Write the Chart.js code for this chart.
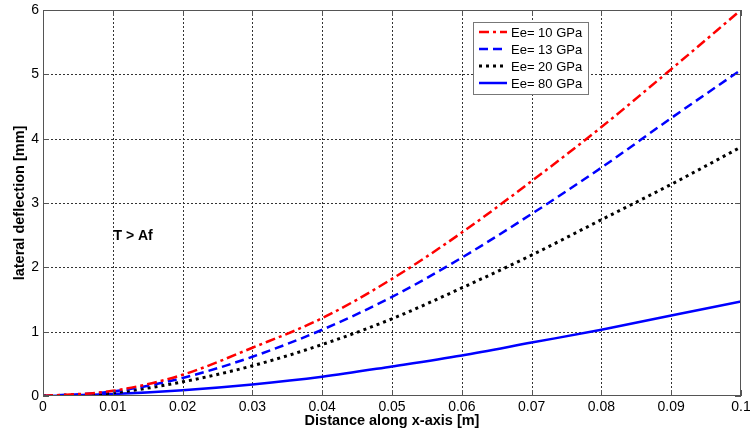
<!DOCTYPE html>
<html>
<head>
<meta charset="utf-8">
<script src="https://cdn.jsdelivr.net/npm/chart.js@4/dist/chart.umd.min.js"></script>
<style>
  html, body { margin: 0; padding: 0; background: #fff; }
  #wrap { width: 750px; height: 436px; position: relative; }
</style>
</head>
<body>
<div id="wrap"><canvas id="chart"></canvas></div>
<script>
// x positions along the beam [m]
const xValues = [0, 0.01, 0.02, 0.03, 0.04, 0.05, 0.06, 0.07, 0.08, 0.09, 0.1];

// lateral deflection [mm] for each Young's modulus
const ee10 = [0, 0.08, 0.33, 0.75, 1.21, 1.82, 2.54, 3.34, 4.18, 5.08, 6.0];
const ee13 = [0, 0.07, 0.28, 0.61, 1.03, 1.54, 2.15, 2.83, 3.55, 4.32, 5.07];
const ee20 = [0, 0.05, 0.22, 0.47, 0.80, 1.20, 1.68, 2.19, 2.74, 3.29, 3.87];
const ee80 = [0, 0.03, 0.09, 0.18, 0.30, 0.46, 0.63, 0.83, 1.03, 1.25, 1.47];

const seriesNames = ["Ee= 10 GPa", "Ee= 13 GPa", "Ee= 20 GPa", "Ee= 80 GPa"];
const xTickLabels = ["0", "0.01", "0.02", "0.03", "0.04", "0.05", "0.06", "0.07", "0.08", "0.09", "0.1"];
const yTickLabels = ["0", "1", "2", "3", "4", "5", "6"];

const styles = [
  { color: "#ff0000", dash: [10, 4, 3, 4], width: 2.5 },
  { color: "#0000ff", dash: [9, 5], width: 2.5 },
  { color: "#000000", dash: [3, 4], width: 3 },
  { color: "#0000ff", dash: [], width: 2.5 }
];

const toPoints = arr => arr.map((v, i) => ({ x: xValues[i], y: v }));

const datasets = [ee10, ee13, ee20, ee80].map((arr, i) => ({
  label: seriesNames[i],
  data: toPoints(arr),
  borderColor: styles[i].color,
  borderDash: styles[i].dash,
  borderWidth: styles[i].width,
  pointRadius: 0,
  cubicInterpolationMode: "monotone",
  fill: false
}));

const FONT = "'Liberation Sans', Arial, sans-serif";

// dotted grid drawn under the curves
const dottedGrid = {
  id: "dottedGrid",
  beforeDatasetsDraw(chart) {
    const { ctx, chartArea: a, scales } = chart;
    ctx.save();
    ctx.strokeStyle = "#333";
    ctx.lineWidth = 1;
    ctx.setLineDash([2, 2]);
    ctx.beginPath();
    xValues.slice(1, -1).forEach(v => {
      const px = Math.round(scales.x.getPixelForValue(v)) + 0.5;
      ctx.moveTo(px, a.top); ctx.lineTo(px, a.bottom);
    });
    yTickLabels.slice(1, -1).forEach((t, i) => {
      const py = Math.round(scales.y.getPixelForValue(i + 1)) + 0.5;
      ctx.moveTo(a.left, py); ctx.lineTo(a.right, py);
    });
    ctx.stroke();
    ctx.restore();
  }
};

// frame, inward ticks, annotation and legend box (matlab look)
const extras = {
  id: "extras",
  afterDraw(chart) {
    const { ctx, chartArea: a, scales } = chart;
    ctx.save();

    // inward tick marks on all four sides
    ctx.strokeStyle = "#555";
    ctx.lineWidth = 1;
    ctx.beginPath();
    xValues.forEach(v => {
      const px = Math.round(scales.x.getPixelForValue(v)) + 0.5;
      ctx.moveTo(px, a.bottom); ctx.lineTo(px, a.bottom - 6);
      ctx.moveTo(px, a.top); ctx.lineTo(px, a.top + 6);
    });
    yTickLabels.forEach((t, i) => {
      const py = Math.round(scales.y.getPixelForValue(i)) + 0.5;
      ctx.moveTo(a.left, py); ctx.lineTo(a.left + 6, py);
      ctx.moveTo(a.right, py); ctx.lineTo(a.right - 6, py);
    });
    ctx.stroke();

    // frame
    ctx.strokeStyle = "#555";
    ctx.strokeRect(a.left + 0.5, a.top + 0.5, a.right - a.left - 1, a.bottom - a.top - 1);

    // annotation
    ctx.fillStyle = "#000";
    ctx.font = "bold 14px " + FONT;
    ctx.textBaseline = "middle";
    ctx.textAlign = "left";
    ctx.fillText("T > Af", scales.x.getPixelForValue(0.0101), scales.y.getPixelForValue(2.48));

    // legend
    const lx = 473, ly = 22, lw = 115, lh = 72;
    ctx.fillStyle = "#fff";
    ctx.fillRect(lx, ly, lw, lh);
    ctx.strokeStyle = "#777";
    ctx.strokeRect(lx + 0.5, ly + 0.5, lw, lh);
    ctx.font = "13px " + FONT;
    seriesNames.forEach((name, i) => {
      const yy = ly + 10 + i * 17;
      ctx.strokeStyle = styles[i].color;
      ctx.lineWidth = styles[i].width;
      ctx.setLineDash(styles[i].dash);
      ctx.beginPath();
      ctx.moveTo(lx + 6, yy);
      ctx.lineTo(lx + 34, yy);
      ctx.stroke();
      ctx.setLineDash([]);
      ctx.fillStyle = "#000";
      ctx.fillText(name, lx + 38, yy + 1);
    });
    ctx.restore();
  }
};

new Chart(document.getElementById("chart"), {
  type: "line",
  data: { datasets },
  options: {
    responsive: true,
    maintainAspectRatio: false,
    animation: false,
    layout: { padding: { top: 10, right: 9, left: 0, bottom: 0 } },
    plugins: { legend: { display: false }, tooltip: { enabled: false } },
    scales: {
      x: {
        type: "linear",
        min: 0,
        max: 0.1,
        afterBuildTicks: s => { s.ticks = xValues.map(v => ({ value: v })); },
        afterFit: s => { s.height = 40; s.paddingLeft = 0; s.paddingRight = 0; },
        ticks: {
          color: "#000",
          font: { family: FONT, size: 14 },
          padding: 3,
          maxRotation: 0,
          callback: (v, i) => xTickLabels[i]
        },
        grid: { display: false, drawTicks: false },
        border: { display: false },
        title: {
          display: true,
          text: "Distance along x-axis [m]",
          color: "#000",
          font: { family: FONT, size: 14.5, weight: "bold" },
          padding: { top: 0, bottom: 6 }
        }
      },
      y: {
        type: "linear",
        min: 0,
        max: 6,
        afterBuildTicks: s => { s.ticks = yTickLabels.map((t, i) => ({ value: i })); },
        afterFit: s => { s.width = 43; s.paddingTop = 0; s.paddingBottom = 0; },
        ticks: {
          color: "#000",
          font: { family: FONT, size: 14 },
          padding: 4,
          callback: (v, i) => yTickLabels[i]
        },
        grid: { display: false, drawTicks: false },
        border: { display: false },
        title: {
          display: true,
          text: "lateral deflection [mm]",
          color: "#000",
          font: { family: FONT, size: 14.5, weight: "bold" },
          padding: { top: 11, bottom: 0 }
        }
      }
    }
  },
  plugins: [dottedGrid, extras]
});
</script>
</body>
</html>
